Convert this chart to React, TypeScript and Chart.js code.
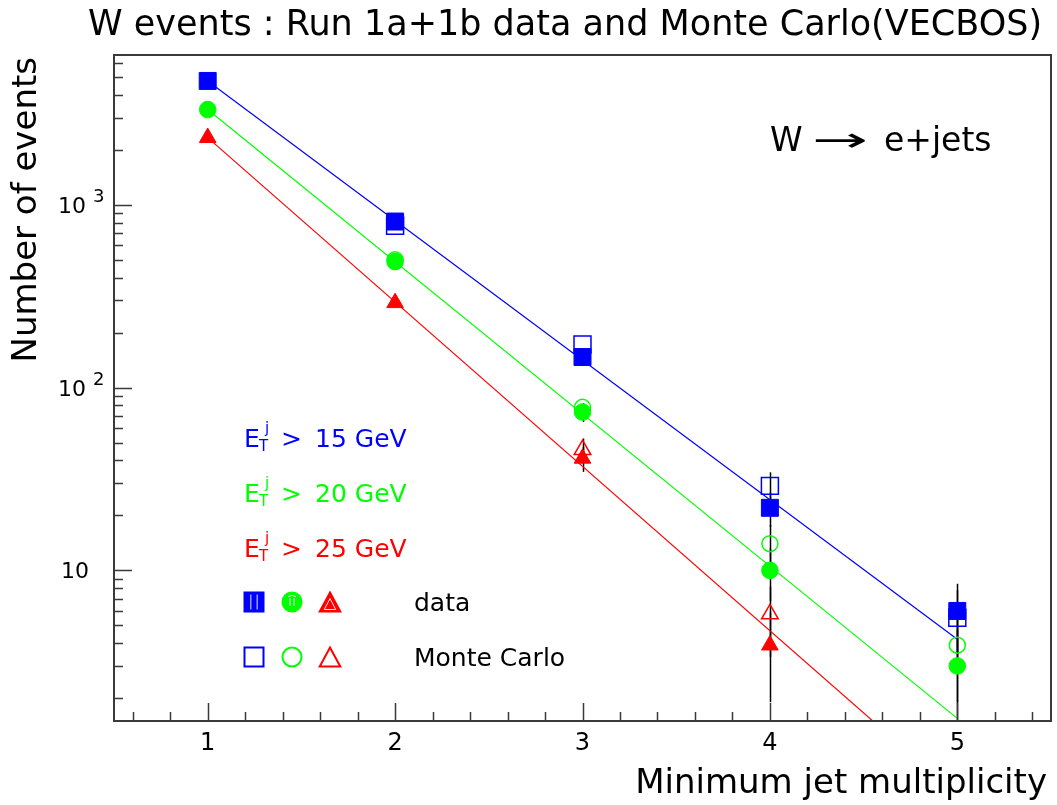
import React, { useEffect, useRef } from 'react';
import { Chart, registerables } from 'chart.js';

Chart.register(...registerables);

// ---- data ----
const multiplicity = [1, 2, 3, 4, 5];

const dataEt15 = [4760, 810, 147, 22, 6];
const dataEt20 = [3320, 489, 73.5, 10, 3];
const dataEt25 = [2330, 291, 41, 3.9, null];

const mcEt15 = [null, 769, 172, 29, 5.5];
const mcEt20 = [null, 500, 78, 14, 3.9];
const mcEt25 = [null, null, 45.7, 5.77, null];

const dataErr15 = [0, 0, 12, 4.7, 2.45];
const dataErr20 = [0, 0, 8.6, 3.2, 1.7];
const dataErr25 = [0, 0, 6.4, 2.0, 0];
const mcErr15 = [0, 0, 0, 5.4, 2.3];
const mcErr20 = [0, 0, 0, 3.7, 2.0];
const mcErr25 = [0, 0, 7.0, 2.4, 0];

const fitX = [1, 5];
const fitEt15 = [4760, 4.2];
const fitEt20 = [3320, 1.55];
const fitEt25 = [2330, 0.59];

const xTickValues = [1, 2, 3, 4, 5];
const xTickLabels = ['1', '2', '3', '4', '5'];
const yTickValues = [10, 100, 1000];
const yTickExponents = ['', '2', '3'];

const seriesLabels = ['15', '20', '25'];
const BLUE = '#0000ff';
const GREEN = '#00ff00';
const RED = '#ff0000';
const FONT = '"DejaVu Sans", sans-serif';

const toPoints = (xs: number[], vals: (number | null)[]) =>
  xs.map((m, i) => ({ x: m, y: vals[i] })).filter((p) => p.y != null) as { x: number; y: number }[];

function drawMarker(ctx: CanvasRenderingContext2D, shape: string, cx: number, cy: number, size: number, color: string, filled: boolean) {
  ctx.save();
  ctx.strokeStyle = color;
  ctx.fillStyle = color;
  ctx.lineWidth = 2;
  const h = size / 2;
  ctx.beginPath();
  if (shape === 'rect') {
    ctx.rect(cx - h, cy - h, size, size);
  } else if (shape === 'circle') {
    ctx.arc(cx, cy, h, 0, Math.PI * 2);
  } else {
    ctx.moveTo(cx, cy - h);
    ctx.lineTo(cx + h * 1.08, cy + h);
    ctx.lineTo(cx - h * 1.08, cy + h);
    ctx.closePath();
  }
  if (filled) {
    ctx.fill();
    ctx.stroke();
    ctx.strokeStyle = 'rgba(255,255,255,0.9)';
    ctx.lineWidth = 1;
    ctx.beginPath();
    if (shape === 'rect') {
      ctx.moveTo(cx - h / 3, cy - h + 2);
      ctx.lineTo(cx - h / 3, cy + h - 2);
      ctx.moveTo(cx + h / 3, cy - h + 2);
      ctx.lineTo(cx + h / 3, cy + h - 2);
    } else if (shape === 'circle') {
      ctx.arc(cx, cy, h - 3, -Math.PI / 2 - 0.6, -Math.PI / 2 + 0.6);
      ctx.moveTo(cx - 2, cy - 4);
      ctx.lineTo(cx - 2, cy + 4);
      ctx.moveTo(cx + 2, cy - 4);
      ctx.lineTo(cx + 2, cy + 4);
    } else {
      ctx.moveTo(cx, cy - h + 6);
      ctx.lineTo(cx + h * 0.6, cy + h - 2);
      ctx.lineTo(cx - h * 0.6, cy + h - 2);
      ctx.closePath();
    }
    ctx.stroke();
  } else {
    ctx.stroke();
  }
  ctx.restore();
}

const decorPlugin = {
  id: 'decor',
  beforeDatasetsDraw(chart: any) {
    const { ctx, chartArea: a, scales } = chart;
    const xs = scales.x;
    const ys = scales.y;
    ctx.save();
    ctx.beginPath();
    ctx.rect(a.left, a.top, a.right - a.left, a.bottom - a.top);
    ctx.clip();
    ctx.strokeStyle = '#000';
    ctx.lineWidth = 1.5;
    const pairs: [(number | null)[], number[]][] = [
      [mcEt15, mcErr15], [mcEt20, mcErr20], [mcEt25, mcErr25],
      [dataEt15, dataErr15], [dataEt20, dataErr20], [dataEt25, dataErr25],
    ];
    pairs.forEach(([vals, errs]) => {
      vals.forEach((v, i) => {
        if (v == null || !errs[i]) return;
        const px = Math.round(xs.getPixelForValue(multiplicity[i])) + 0.5;
        const hi = ys.getPixelForValue(v + errs[i]);
        const loVal = v - errs[i];
        const lo = loVal > 0 ? ys.getPixelForValue(loVal) : a.bottom + 5;
        ctx.beginPath();
        ctx.moveTo(px, hi);
        ctx.lineTo(px, lo);
        ctx.stroke();
      });
    });
    ctx.restore();
  },
  afterDraw(chart: any) {
    const { ctx, chartArea: a, scales } = chart;
    const xs = scales.x;
    const ys = scales.y;
    ctx.save();

    // frame
    ctx.strokeStyle = '#3a3a3a';
    ctx.lineWidth = 2;
    ctx.strokeRect(a.left, a.top, a.right - a.left, a.bottom - a.top);

    // inward ticks
    ctx.lineWidth = 1.5;
    ctx.beginPath();
    for (let k = 3; k <= 27; k++) {
      const v = k / 5;
      const px = Math.round(xs.getPixelForValue(v)) + 0.5;
      if (px <= a.left + 1 || px >= a.right - 1) continue;
      const len = k % 5 === 0 ? 18 : 9;
      ctx.moveTo(px, a.bottom);
      ctx.lineTo(px, a.bottom - len);
    }
    const decades = [1, 10, 100, 1000];
    decades.forEach((d) => {
      for (let m = 1; m <= 9; m++) {
        const v = m * d;
        if (v < ys.min || v > ys.max) continue;
        const py = Math.round(ys.getPixelForValue(v)) + 0.5;
        if (py <= a.top + 1 || py >= a.bottom - 1) continue;
        const len = m === 1 ? 18 : 9;
        ctx.moveTo(a.left, py);
        ctx.lineTo(a.left + len, py);
      }
    });
    ctx.stroke();

    ctx.fillStyle = '#000';
    // x tick labels
    ctx.font = `24px ${FONT}`;
    ctx.textAlign = 'center';
    ctx.textBaseline = 'alphabetic';
    xTickValues.forEach((v, i) => {
      ctx.fillText(xTickLabels[i], xs.getPixelForValue(v), 750);
    });

    // y tick labels
    yTickValues.forEach((v, i) => {
      const py = ys.getPixelForValue(v);
      const exp = yTickExponents[i];
      ctx.textAlign = 'right';
      ctx.font = `22px ${FONT}`;
      if (exp) {
        ctx.fillText('10', a.left - 28, py + 8);
        ctx.textAlign = 'left';
        ctx.font = `18px ${FONT}`;
        ctx.fillText(exp, a.left - 21, py - 3);
      } else {
        ctx.fillText('10', a.left - 25, py + 8);
      }
    });

    // title
    ctx.textAlign = 'left';
    ctx.font = `35px ${FONT}`;
    ctx.fillText('W events : Run 1a+1b data and Monte Carlo(VECBOS)', 88, 35);

    // x axis title
    ctx.textAlign = 'right';
    ctx.font = `34px ${FONT}`;
    ctx.fillText('Minimum jet multiplicity', 1047, 793);

    // y axis title
    ctx.save();
    ctx.translate(36, 57);
    ctx.rotate(-Math.PI / 2);
    ctx.textAlign = 'right';
    ctx.font = `34px ${FONT}`;
    ctx.fillText('Number of events', 0, 0);
    ctx.restore();

    // W -> e+jets
    ctx.textAlign = 'left';
    ctx.font = `33px ${FONT}`;
    ctx.fillText('W', 770, 151);
    const aw = ctx.measureText('\u2192').width;
    ctx.save();
    ctx.translate(812, 151);
    ctx.scale(56 / aw, 1);
    ctx.fillText('\u2192', 0, 0);
    ctx.restore();
    ctx.fillText('e+jets', 884, 151);

    // E_T^j labels
    const colors = [BLUE, GREEN, RED];
    seriesLabels.forEach((lab, i) => {
      const base = 446.7 + 55 * i;
      ctx.fillStyle = colors[i];
      ctx.textAlign = 'left';
      ctx.font = `25px ${FONT}`;
      ctx.fillText('E', 244, base);
      ctx.font = `15px ${FONT}`;
      ctx.fillText('T', 259, base + 4);
      ctx.fillText('j', 265, base - 14);
      ctx.font = `25px ${FONT}`;
      ctx.fillText('>', 281, base);
      ctx.fillText(`${lab} GeV`, 315, base);
    });

    // legend markers
    const shapes = ['rect', 'circle', 'triangle'];
    const mx = [254, 292, 330];
    shapes.forEach((s, i) => {
      drawMarker(ctx, s, mx[i], 602, 19, colors[i], true);
      drawMarker(ctx, s, mx[i], 657, 19, colors[i], false);
    });
    ctx.fillStyle = '#000';
    ctx.textAlign = 'left';
    ctx.font = `25px ${FONT}`;
    ctx.fillText('data', 414, 611);
    ctx.fillText('Monte Carlo', 414, 666);

    ctx.restore();
  },
};

export default function App() {
  const canvasRef = useRef<HTMLCanvasElement | null>(null);

  useEffect(() => {
    if (!canvasRef.current) return;
    const fitStyle = (color: string) => ({
      borderColor: color,
      borderWidth: 1.2,
      pointRadius: 0,
      showLine: true,
      fill: false,
      tension: 0,
      order: 3,
    });
    const markerStyle = (color: string, style: string, radius: number, filled: boolean, order: number) => ({
      showLine: false,
      pointStyle: style,
      pointRadius: radius,
      pointBackgroundColor: filled ? color : 'rgba(0,0,0,0)',
      pointBorderColor: color,
      pointBorderWidth: filled ? 1 : 1.5,
      borderColor: color,
      backgroundColor: filled ? color : 'rgba(0,0,0,0)',
      order,
    });
    const chart = new Chart(canvasRef.current, {
      type: 'line',
      data: {
        datasets: [
          { label: 'fit 15', data: toPoints(fitX, fitEt15), ...fitStyle(BLUE) },
          { label: 'fit 20', data: toPoints(fitX, fitEt20), ...fitStyle(GREEN) },
          { label: 'fit 25', data: toPoints(fitX, fitEt25), ...fitStyle(RED) },
          { label: 'MC 15', data: toPoints(multiplicity, mcEt15), ...markerStyle(BLUE, 'rect', 12, false, 2) },
          { label: 'MC 20', data: toPoints(multiplicity, mcEt20), ...markerStyle(GREEN, 'circle', 8, false, 2) },
          { label: 'MC 25', data: toPoints(multiplicity, mcEt25), ...markerStyle(RED, 'triangle', 9.6, false, 2) },
          { label: 'data 15', data: toPoints(multiplicity, dataEt15), ...markerStyle(BLUE, 'rect', 12, true, 1) },
          { label: 'data 20', data: toPoints(multiplicity, dataEt20), ...markerStyle(GREEN, 'circle', 8.3, true, 1) },
          { label: 'data 25', data: toPoints(multiplicity, dataEt25), ...markerStyle(RED, 'triangle', 9.6, true, 1) },
        ] as any,
      },
      options: {
        animation: false,
        responsive: false,
        maintainAspectRatio: false,
        devicePixelRatio: 1,
        layout: { autoPadding: false, padding: { left: 114, top: 55, right: 6, bottom: 84 } },
        plugins: {
          legend: { display: false },
          tooltip: { enabled: false },
          title: { display: false },
        },
        scales: {
          x: { type: 'linear', min: 0.5, max: 5.5, display: false },
          y: { type: 'logarithmic', min: 1.5, max: 6600, display: false },
        },
      },
      plugins: [decorPlugin],
    } as any);
    return () => chart.destroy();
  }, []);

  return (
    <div style={{ position: 'fixed', left: 0, top: 0, width: 1057, height: 805, background: '#fff' }}>
      <canvas ref={canvasRef} width={1057} height={805} style={{ display: 'block', width: 1057, height: 805 }} />
    </div>
  );
}
